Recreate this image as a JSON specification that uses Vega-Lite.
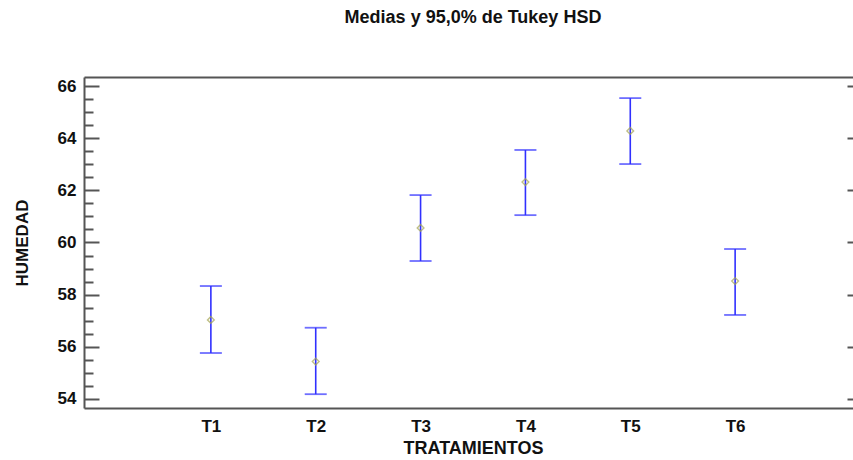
{
  "$schema": "https://vega.github.io/schema/vega-lite/v6.json",
  "autosize": "none",
  "width": 778,
  "height": 331,
  "padding": {"left": 84, "top": 77, "right": 0, "bottom": 52},
  "background": "white",
  "title": {
    "text": "Medias y 95,0% de Tukey HSD",
    "font": "Liberation Sans",
    "fontSize": 18,
    "fontWeight": "bold",
    "color": "#111",
    "anchor": "middle",
    "baseline": "bottom",
    "offset": 32
  },
  "config": {
    "view": {"stroke": null},
    "font": "Liberation Sans"
  },
  "data": {
    "values": [
      {"trat": "T1", "n": 1, "media": 57.03, "inf": 55.76, "sup": 58.33},
      {"trat": "T2", "n": 2, "media": 55.43, "inf": 54.18, "sup": 56.73},
      {"trat": "T3", "n": 3, "media": 60.56, "inf": 59.29, "sup": 61.82},
      {"trat": "T4", "n": 4, "media": 62.32, "inf": 61.05, "sup": 63.55},
      {"trat": "T5", "n": 5, "media": 64.28, "inf": 63.01, "sup": 65.54},
      {"trat": "T6", "n": 6, "media": 58.52, "inf": 57.22, "sup": 59.75}
    ]
  },
  "layer": [
    {
      "mark": {"type": "rule", "color": "#3030ff", "strokeWidth": 1.6},
      "encoding": {
        "x": {
          "field": "n",
          "type": "quantitative",
          "scale": {"domain": [-0.21, 7.21], "nice": false, "zero": false},
          "axis": {
            "title": "TRATAMIENTOS",
            "values": [1, 2, 3, 4, 5, 6],
            "labelExpr": "'T' + datum.value",
            "grid": false,
            "ticks": false,
            "labelPadding": 10,
            "labelFont": "Liberation Sans",
            "labelFontSize": 17,
            "labelFontWeight": "bold",
            "labelColor": "#111",
            "domainColor": "#555",
            "domainWidth": 2,
            "titleFont": "Liberation Sans",
            "titleFontSize": 18,
            "titleFontWeight": "bold",
            "titleColor": "#111",
            "titlePadding": 5
          }
        },
        "y": {
          "field": "inf",
          "type": "quantitative",
          "scale": {"domain": [53.65, 66.35], "nice": false, "zero": false},
          "axis": {
            "orient": "left",
            "title": "HUMEDAD",
            "values": [54, 54.5, 55, 55.5, 56, 56.5, 57, 57.5, 58, 58.5, 59, 59.5, 60, 60.5, 61, 61.5, 62, 62.5, 63, 63.5, 64, 64.5, 65, 65.5, 66],
            "labelExpr": "datum.value % 2 === 0 ? format(datum.value, 'd') : ''",
            "tickSize": {"condition": {"test": "datum.value % 2 === 0", "value": -15}, "value": -9},
            "tickColor": "#555",
            "tickWidth": 2,
            "domainColor": "#555",
            "domainWidth": 2,
            "grid": false,
            "labelPadding": 23,
            "labelFont": "Liberation Sans",
            "labelFontSize": 17,
            "labelFontWeight": "bold",
            "labelColor": "#111",
            "titleFont": "Liberation Sans",
            "titleFontSize": 17,
            "titleFontWeight": "bold",
            "titleColor": "#111",
            "titlePadding": 26
          }
        },
        "y2": {"field": "sup"}
      }
    },
    {
      "mark": {"type": "tick", "orient": "horizontal", "color": "#3030ff", "size": 22, "thickness": 1.8},
      "encoding": {
        "x": {
          "field": "n",
          "type": "quantitative",
          "axis": {
            "orient": "top",
            "title": null,
            "labels": false,
            "ticks": false,
            "grid": false,
            "domainColor": "#555",
            "domainWidth": 2
          }
        },
        "y": {
          "field": "sup",
          "type": "quantitative",
          "axis": {
            "orient": "right",
            "title": null,
            "values": [54, 56, 58, 60, 62, 64, 66],
            "labels": false,
            "domain": false,
            "domainOpacity": 0,
            "grid": false,
            "tickSize": 15,
            "offset": -15,
            "tickColor": "#555",
            "tickWidth": 2
          }
        }
      }
    },
    {
      "mark": {"type": "tick", "orient": "horizontal", "color": "#3030ff", "size": 22, "thickness": 1.8},
      "encoding": {
        "x": {"field": "n", "type": "quantitative", "axis": null},
        "y": {"field": "inf", "type": "quantitative", "axis": null}
      }
    },
    {
      "mark": {"type": "point", "shape": "diamond", "filled": false, "color": "#a5a552", "size": 45, "strokeWidth": 1.4},
      "encoding": {
        "x": {"field": "n", "type": "quantitative", "axis": null},
        "y": {"field": "media", "type": "quantitative", "axis": null}
      }
    }
  ],
  "resolve": {"axis": {"x": "independent", "y": "independent"}}
}
